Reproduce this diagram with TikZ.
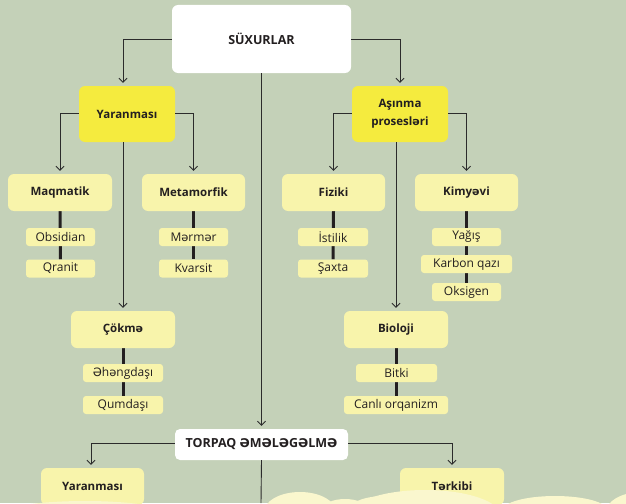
\documentclass[tikz,border=0pt]{standalone}
\usepackage{fontspec}
\setmainfont{Open Sans}
\newfontfamily\schwafont{DejaVu Sans}[Scale=0.96]
\newcommand\SchwaU{{\schwafont Ə}}
\newcommand\schwaL{{\schwafont ə}}
\usetikzlibrary{arrows.meta,calc}
\definecolor{bgc}{HTML}{C4D1B8}
\definecolor{ybright}{HTML}{F5EB3E}
\definecolor{ypale}{HTML}{F8F4AB}
\definecolor{cloudc}{HTML}{FAF7CE}
\definecolor{txt}{HTML}{231F20}
\definecolor{linec}{HTML}{2B2B2B}
\pgfdeclarelayer{bglayer}
\pgfdeclarelayer{background}
\pgfsetlayers{bglayer,background,main}
\tikzset{
  box/.style={draw=none, inner sep=0pt, text=txt, anchor=center},
  whitebox/.style={box, fill=white, rounded corners=6pt, font=\fontsize{12.5}{15}\selectfont\bfseries},
  brightbox/.style={box, fill=ybright, rounded corners=6pt, minimum width=96pt, minimum height=56pt, align=center, font=\fontsize{11.5}{17.5}\selectfont\bfseries},
  palebox/.style={box, fill=ypale, rounded corners=6pt, minimum height=37pt, font=\fontsize{11.5}{14}\selectfont\bfseries},
  itembox/.style={box, fill=ypale, rounded corners=3pt, minimum height=18pt, font=\fontsize{12}{14}\selectfont},
  conn/.style={draw=linec, line width=0.9pt, -{Straight Barb[length=4pt,width=8pt,line width=0.9pt]}, shorten >=3pt},
  plain/.style={draw=linec, line width=0.9pt},
  thick line/.style={draw=txt, line width=3pt},
}
\begin{document}
\begin{tikzpicture}[x=1pt,y=-1pt]
\begin{pgfonlayer}{bglayer}
\fill[bgc] (0,0) rectangle (626,503);
\end{pgfonlayer}
\useasboundingbox (0,0) rectangle (626,503);

% top level
\node[whitebox, minimum width=179pt, minimum height=68pt] (sux) at (261.5,39) {SÜXURLAR};
\node[brightbox] (yar1) at (127,114) {Yaranması};
\node[brightbox] (asin) at (400,114) {Aşınma\\prosesl\schwaL ri};

% second level
\node[palebox, minimum width=104pt] (maq) at (60,192.5) {Maqmatik};
\node[palebox, minimum width=103pt] (meta) at (193.5,192.5) {Metamorfik};
\node[palebox, minimum width=104pt] (cok) at (123,329.5) {Çökm\schwaL};
\node[palebox, minimum width=103pt] (fiz) at (333.5,192.5) {Fiziki};
\node[palebox, minimum width=103pt] (kim) at (466.5,192.5) {Kimy\schwaL vi};
\node[palebox, minimum width=104pt] (bio) at (396,329.5) {Bioloji};

% items
\node[itembox, minimum width=69pt] (obs) at (60.5,237) {Obsidian};
\node[itembox, minimum width=69pt] (qra) at (60.5,268.5) {Qranit};
\node[itembox, minimum width=69pt] (mer) at (193.5,237) {M\schwaL rm\schwaL r};
\node[itembox, minimum width=69pt] (kva) at (193.5,268.5) {Kvarsit};
\node[itembox, minimum width=70pt] (ist) at (333,237) {İstilik};
\node[itembox, minimum width=70pt] (sax) at (333,268.5) {Şaxta};
\node[itembox, minimum width=69pt] (yag) at (466.5,237) {Yağış};
\node[itembox, minimum width=91pt] (kar) at (466.5,264) {Karbon qazı};
\node[itembox, minimum width=69pt] (oks) at (466.5,292) {Oksigen};
\node[itembox, minimum width=80pt] (ehe) at (123,373) {\SchwaU h\schwaL ngdaşı};
\node[itembox, minimum width=80pt] (qum) at (123,405) {Qumdaşı};
\node[itembox, minimum width=81pt] (bit) at (396.5,373) {Bitki};
\node[itembox, minimum width=104pt] (can) at (396,405) {Canlı orqanizm};

% soil
\node[whitebox, minimum width=173pt, minimum height=31pt, rounded corners=5pt] (torp) at (261.5,444.5) {TORPAQ \SchwaU M\SchwaU L\SchwaU G\SchwaU LM\SchwaU};
\node[palebox, minimum width=103pt] (yar2) at (92.5,486.5) {Yaranması};
\node[palebox, minimum width=104pt] (ter) at (452,486.5) {T\schwaL rkibi};
\coordinate (bottom) at (261,503);

% thick item lines
\begin{pgfonlayer}{background}
\draw[thick line] (maq.south) -- (qra.north);
\draw[thick line] (meta.south) -- (kva.north);
\draw[thick line] (fiz.south) -- (sax.north);
\draw[thick line] (kim.south) -- (oks.north);
\draw[thick line] (cok.south) -- (qum.north);
\draw[thick line] (bio.south) -- (can.north);
\end{pgfonlayer}

% connectors
\draw[conn] (sux.west) -| ([xshift=-4pt]yar1.north);
\draw[conn] (sux.east) -| (asin.north);
\draw[conn] (sux.south) -- (torp.north);
\draw[conn] ([yshift=1pt]yar1.west) -| (maq.north);
\draw[conn] ([yshift=1pt]yar1.east) -| (meta.north);
\draw[conn] ([xshift=-4pt]yar1.south) -- (cok.north);
\draw[conn] ([yshift=1pt]asin.west) -| (fiz.north);
\draw[conn] ([yshift=1pt]asin.east) -| (kim.north);
\draw[conn] ([xshift=-4pt]asin.south) -- (bio.north);
\draw[conn] ([yshift=1.5pt]torp.west) -| ([xshift=-1.5pt]yar2.north);
\draw[conn] ([yshift=1.5pt]torp.east) -| (ter.north);
\draw[plain] (torp.south) -- (bottom);

% clouds
\fill[cloudc] (85,516) ellipse [x radius=90, y radius=15];
\fill[cloudc] (300,512) ellipse [x radius=36, y radius=20];
\fill[cloudc] (345,509) ellipse [x radius=22, y radius=10];
\fill[cloudc] (425,516) ellipse [x radius=76, y radius=26];
\fill[cloudc] (385,509) ellipse [x radius=35, y radius=13];
\fill[cloudc] (555,510) ellipse [x radius=52, y radius=14];
\fill[cloudc] (642,512) ellipse [x radius=36, y radius=20];
\end{tikzpicture}
\end{document}
